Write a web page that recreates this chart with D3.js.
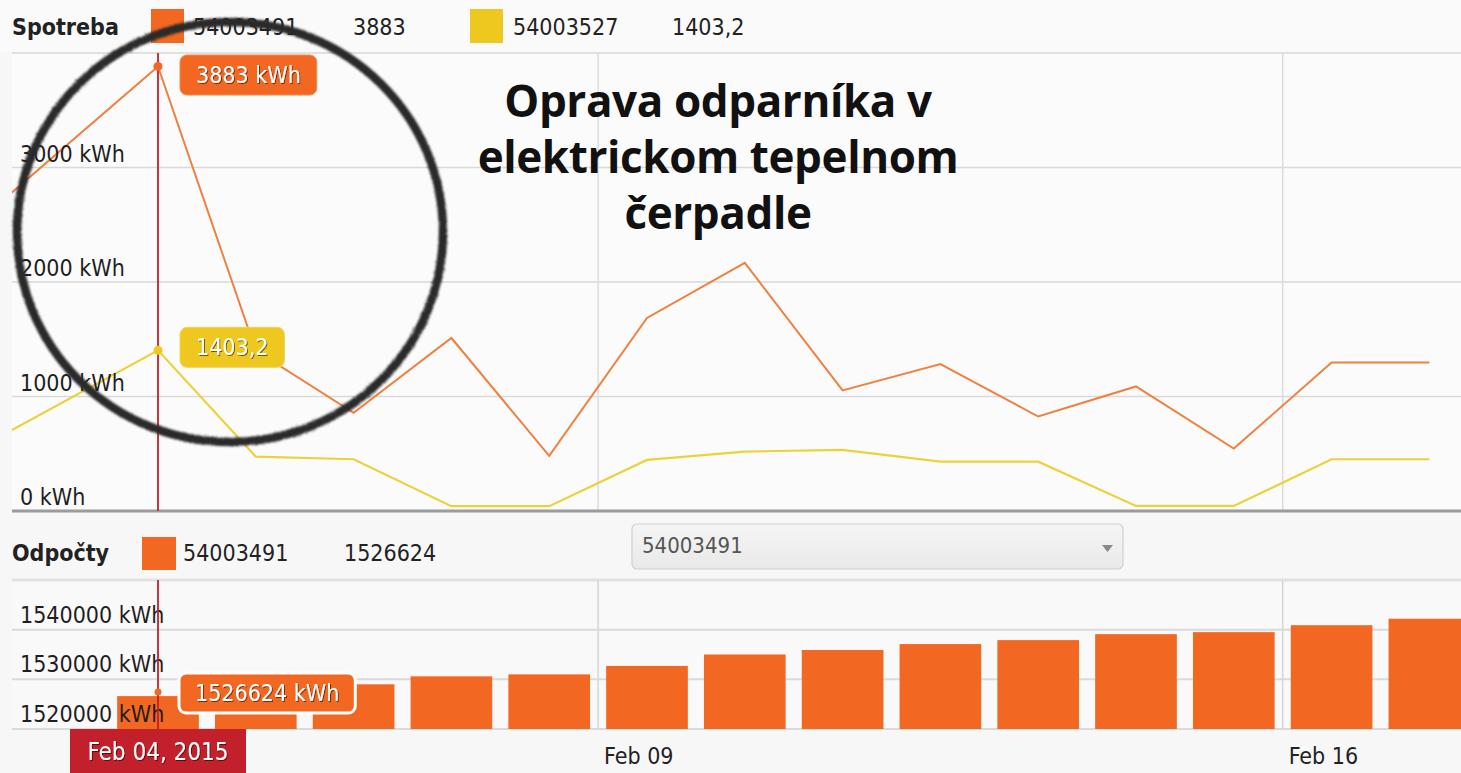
<!DOCTYPE html>
<html>
<head>
<meta charset="utf-8">
<script src="https://cdn.jsdelivr.net/npm/d3@7"></script>
<style>
  body { margin: 0; background: #f8f7f8; }
  svg { display: block; font-family: 'DejaVu Sans Condensed', 'DejaVu Sans', sans-serif; font-stretch: condensed; }
</style>
</head>
<body>
<svg id="chart" width="1461" height="773"></svg>
<script>
// daily readings (Feb 03 missing in the source)
var days = ['2015-02-02', '2015-02-04', '2015-02-05', '2015-02-06', '2015-02-07', '2015-02-08',
            '2015-02-09', '2015-02-10', '2015-02-11', '2015-02-12', '2015-02-13', '2015-02-14',
            '2015-02-15', '2015-02-16', '2015-02-17'];
var spotreba491 = [2409, 3883, 1400, 857, 1511, 481, 1686, 2167, 1053, 1283, 825, 1088, 545, 1297, 1297];
var spotreba527 = [472, 1403.2, 475, 452, 42, 42, 446, 519, 534, 431, 431, 44, 44, 452, 452];
var odpocty491 = [1521800, 1526624, 1528000, 1529000, 1530600, 1531000, 1532700, 1535000,
                  1535900, 1537100, 1537900, 1539100, 1539500, 1540900, 1542200];
var topTicks = [0, 1000, 2000, 3000];
var bottomTicks = [1520000, 1530000, 1540000];
var dateTicks = ['2015-02-09', '2015-02-16'];
var selected = '2015-02-04';

var orange = '#f26822', orangeLine = '#f0803f', yellow = '#efc81f', yellowLine = '#ecd23a', red = '#c2202b';

var W = 1461, left = 12;
var parse = d3.timeParse('%Y-%m-%d');
var noon = function(s) { return d3.timeHour.offset(parse(s), 12); };

var x = d3.scaleTime()
    .domain([noon('2015-02-04'), noon('2015-02-16')])
    .range([158, 1331.6]);
var yTop = d3.scaleLinear().domain([0, 4000]).range([511, 53]);
var yBot = d3.scaleLinear().domain([1520000, 1550000]).range([729, 580]);

var svg = d3.select('#chart');
var defs = svg.append('defs');
defs.append('clipPath').attr('id', 'clipTop')
  .append('rect').attr('x', left).attr('y', 40).attr('width', W - left).attr('height', 480);
defs.append('clipPath').attr('id', 'clipBot')
  .append('rect').attr('x', left).attr('y', 580).attr('width', W - left).attr('height', 150);
var sh = defs.append('filter').attr('id', 'shadow');
sh.append('feDropShadow').attr('dx', 1).attr('dy', 1).attr('stdDeviation', 0.6)
  .attr('flood-color', '#000').attr('flood-opacity', 0.55);
var rough = defs.append('filter').attr('id', 'rough').attr('x', '-10%').attr('y', '-10%').attr('width', '120%').attr('height', '120%');
rough.append('feTurbulence').attr('type', 'fractalNoise').attr('baseFrequency', 0.9).attr('numOctaves', 2).attr('result', 'n');
rough.append('feDisplacementMap').attr('in', 'SourceGraphic').attr('in2', 'n').attr('scale', 3).attr('result', 'd');
rough.append('feGaussianBlur').attr('in', 'd').attr('stdDeviation', 0.9);
var gradSel = defs.append('linearGradient').attr('id', 'selGrad').attr('x1', 0).attr('y1', 0).attr('x2', 0).attr('y2', 1);
gradSel.append('stop').attr('offset', 0).attr('stop-color', '#f5f5f5');
gradSel.append('stop').attr('offset', 1).attr('stop-color', '#e9e9e9');

// panels
svg.append('rect').attr('x', 0).attr('y', 0).attr('width', W).attr('height', 52).attr('fill', '#fbfafb');
svg.append('rect').attr('x', left).attr('y', yTop(4000)).attr('width', W - left).attr('height', yTop(0) - yTop(4000)).attr('fill', '#fcfbfc');
svg.append('rect').attr('x', left).attr('y', yBot(1550000)).attr('width', W - left).attr('height', yBot(1520000) - yBot(1550000)).attr('fill', '#faf9fa');

// ---- top chart: Spotreba ----
var gTop = svg.append('g');
gTop.selectAll('.hgrid').data([1000, 2000, 3000, 4000]).enter().append('line')
    .attr('x1', left).attr('x2', W)
    .attr('y1', function(d) { return yTop(d); }).attr('y2', function(d) { return yTop(d); })
    .attr('stroke', '#d9d9d9').attr('stroke-width', 1.5);
gTop.selectAll('.vgrid').data(dateTicks).enter().append('line')
    .attr('x1', function(d) { return x(parse(d)); }).attr('x2', function(d) { return x(parse(d)); })
    .attr('y1', yTop(4000)).attr('y2', yTop(0))
    .attr('stroke', '#dcdcdc').attr('stroke-width', 1.5);

var line = d3.line()
    .x(function(d, i) { return x(noon(days[i])); })
    .y(function(d) { return yTop(d); });
var lines = gTop.append('g').attr('clip-path', 'url(#clipTop)');
lines.append('path').datum(spotreba527).attr('d', line)
    .attr('fill', 'none').attr('stroke', yellowLine).attr('stroke-width', 2.2);
lines.append('path').datum(spotreba491).attr('d', line)
    .attr('fill', 'none').attr('stroke', orangeLine).attr('stroke-width', 2);

gTop.append('line').attr('x1', left).attr('x2', W).attr('y1', yTop(0)).attr('y2', yTop(0))
    .attr('stroke', '#9c9c9c').attr('stroke-width', 3);

gTop.selectAll('.ylab').data(topTicks).enter().append('text')
    .attr('x', 20).attr('y', function(d) { return yTop(d) - 6; })
    .attr('font-size', 23).attr('fill', '#1e1e1e')
    .text(function(d) { return d + ' kWh'; });

// ---- bottom chart: Odpočty ----
var gBot = svg.append('g');
gBot.selectAll('.hgrid').data([1520000, 1530000, 1540000]).enter().append('line')
    .attr('x1', left).attr('x2', W)
    .attr('y1', function(d) { return yBot(d); }).attr('y2', function(d) { return yBot(d); })
    .attr('stroke', '#dadada').attr('stroke-width', 2);
gBot.append('line').attr('x1', left).attr('x2', W).attr('y1', yBot(1550000)).attr('y2', yBot(1550000))
    .attr('stroke', '#e3e2e3').attr('stroke-width', 3);
gBot.selectAll('.vgrid').data(dateTicks).enter().append('line')
    .attr('x1', function(d) { return x(parse(d)); }).attr('x2', function(d) { return x(parse(d)); })
    .attr('y1', yBot(1550000)).attr('y2', yBot(1520000))
    .attr('stroke', '#d6d6d6').attr('stroke-width', 1.5);

var barW = (x(noon('2015-02-05')) - x(noon('2015-02-04'))) * 0.835;
gBot.append('g').attr('clip-path', 'url(#clipBot)')
  .selectAll('rect').data(odpocty491).enter().append('rect')
    .attr('x', function(d, i) { return x(noon(days[i])) - barW / 2; })
    .attr('width', barW)
    .attr('y', function(d) { return yBot(d); })
    .attr('height', function(d) { return yBot(1520000) - yBot(d); })
    .attr('fill', orange);

gBot.selectAll('.ylab').data(bottomTicks).enter().append('text')
    .attr('x', 20).attr('y', function(d) { return yBot(d) - 7; })
    .attr('font-size', 23).attr('fill', '#1e1e1e')
    .text(function(d) { return d + ' kWh'; });

gBot.selectAll('.xlab').data(dateTicks).enter().append('text')
    .attr('x', function(d) { return x(parse(d)) + 6; }).attr('y', 764)
    .attr('font-size', 23).attr('fill', '#222')
    .text(function(d) { return d3.timeFormat('%b %d')(parse(d)); });

// ---- crosshair on the selected day ----
var si = days.indexOf(selected);
var sx = x(noon(selected));
svg.append('line').attr('x1', sx).attr('x2', sx).attr('y1', yTop(4000)).attr('y2', yTop(0))
    .attr('stroke', red).attr('stroke-width', 1.8);
svg.append('line').attr('x1', sx).attr('x2', sx).attr('y1', yBot(1550000)).attr('y2', yBot(1520000))
    .attr('stroke', red).attr('stroke-width', 1.8);
svg.append('circle').attr('cx', sx).attr('cy', yTop(spotreba491[si])).attr('r', 4.5).attr('fill', orange);
svg.append('circle').attr('cx', sx).attr('cy', yTop(spotreba527[si])).attr('r', 4.5).attr('fill', yellow);
svg.append('circle').attr('cx', sx).attr('cy', yBot(odpocty491[si]) - 4).attr('r', 3.5).attr('fill', orange);

function tip(xl, cy, label, fill, border, bw) {
  var g = svg.append('g');
  var r = g.append('rect').attr('fill', fill).attr('rx', 7)
      .attr('stroke', border).attr('stroke-width', bw);
  var t = g.append('text').attr('x', xl + 16).attr('y', cy + 8)
      .attr('font-size', 23).attr('fill', '#fff').attr('filter', 'url(#shadow)').text(label);
  var w = t.node().getComputedTextLength() + 32;
  r.attr('x', xl).attr('y', cy - 20).attr('width', w).attr('height', 40);
}
var fmt = function(v) { return String(v).replace('.', ','); };
tip(sx + 22, Math.max(yTop(spotreba491[si]) + 8, 75), spotreba491[si] + ' kWh', orange, '#f48a4c', 1);
tip(sx + 22, yTop(spotreba527[si]) - 3, fmt(spotreba527[si]), yellow, '#f1d25a', 1);
tip(sx + 21, yBot(odpocty491[si]) - 3, odpocty491[si] + ' kWh', orange, '#fff', 3);

// date flag
var flag = svg.append('g');
flag.append('rect').attr('x', sx - 88).attr('y', 729).attr('width', 176).attr('height', 44).attr('fill', red);
flag.append('text').attr('x', sx).attr('y', 760).attr('text-anchor', 'middle')
    .attr('font-size', 24).attr('fill', '#fff').attr('filter', 'url(#shadow)')
    .text(d3.timeFormat('%b %d, %Y')(parse(selected)));

// ---- legends ----
var lg = svg.append('g');
lg.append('text').attr('x', 12).attr('y', 35).attr('font-size', 23).attr('font-weight', 'bold').attr('fill', '#222').text('Spotreba');
lg.append('rect').attr('x', 151).attr('y', 9).attr('width', 33).attr('height', 34).attr('fill', orange);
lg.append('text').attr('x', 193).attr('y', 35).attr('font-size', 23).attr('fill', '#222').text('54003491');
lg.append('text').attr('x', 353).attr('y', 35).attr('font-size', 23).attr('fill', '#222').text(spotreba491[si]);
lg.append('rect').attr('x', 470).attr('y', 9).attr('width', 33).attr('height', 34).attr('fill', yellow);
lg.append('text').attr('x', 513).attr('y', 35).attr('font-size', 23).attr('fill', '#222').text('54003527');
lg.append('text').attr('x', 672).attr('y', 35).attr('font-size', 23).attr('fill', '#222').text(fmt(spotreba527[si]));

lg.append('text').attr('x', 12).attr('y', 561).attr('font-size', 23).attr('font-weight', 'bold').attr('fill', '#222').text('Odpočty');
lg.append('rect').attr('x', 142).attr('y', 537).attr('width', 34).attr('height', 33).attr('fill', orange);
lg.append('text').attr('x', 183).attr('y', 561).attr('font-size', 23).attr('fill', '#222').text('54003491');
lg.append('text').attr('x', 344).attr('y', 561).attr('font-size', 23).attr('fill', '#222').text(odpocty491[si]);

// meter select box
var sel = svg.append('g');
sel.append('rect').attr('x', 632).attr('y', 524).attr('width', 491).attr('height', 45).attr('rx', 5)
    .attr('fill', 'url(#selGrad)').attr('stroke', '#d0d0d0').attr('stroke-width', 1.2);
sel.append('text').attr('x', 642).attr('y', 553).attr('font-size', 22).attr('fill', '#555').text('54003491');
sel.append('path').attr('d', 'M1102,545 L1113,545 L1107.5,552 Z').attr('fill', '#8a8a8a');

// ---- annotation ----
svg.append('ellipse').attr('cx', 230).attr('cy', 232).attr('rx', 213).attr('ry', 210)
    .attr('fill', 'none').attr('stroke', '#2a2a2a').attr('stroke-width', 8.5).attr('filter', 'url(#rough)');
var title = ['Oprava odparníka v', 'elektrickom tepelnom', 'čerpadle'];
svg.append('g').selectAll('text').data(title).enter().append('text')
    .attr('x', 718).attr('y', function(d, i) { return 117 + i * 56; })
    .attr('text-anchor', 'middle')
    .attr('font-family', "'Open Sans', sans-serif").attr('font-stretch', 'normal')
    .attr('font-weight', 700).attr('font-size', 44).attr('letter-spacing', -0.4).attr('fill', '#111')
    .text(function(d) { return d; });
</script>
</body>
</html>
